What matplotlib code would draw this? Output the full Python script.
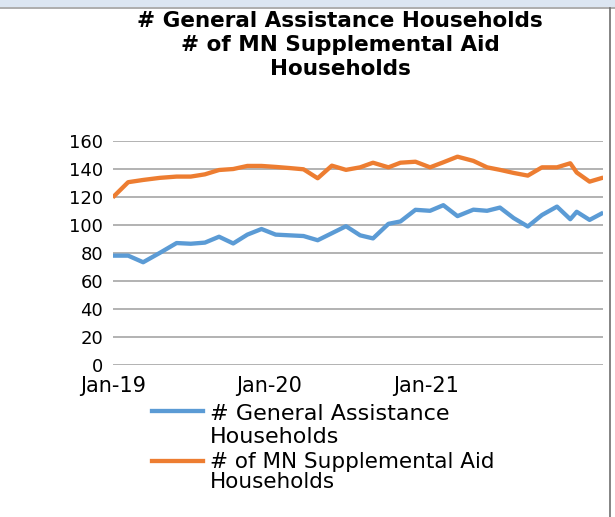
import matplotlib
matplotlib.use("Agg")
import matplotlib.pyplot as plt
from matplotlib.lines import Line2D
from matplotlib.patches import Rectangle
import pandas as pd

# Reporting dates and household counts
report_dates = [
    "2019-01-01", "2019-02-06", "2019-03-13", "2019-04-21", "2019-05-30",
    "2019-07-02", "2019-08-04", "2019-09-06", "2019-10-09", "2019-11-11",
    "2019-12-14", "2020-01-16", "2020-02-17", "2020-03-21", "2020-04-23",
    "2020-05-26", "2020-06-28", "2020-07-31", "2020-08-30", "2020-10-05",
    "2020-11-02", "2020-12-07", "2021-01-10", "2021-02-10", "2021-03-15",
    "2021-04-21", "2021-05-23", "2021-06-22", "2021-07-24", "2021-08-26",
    "2021-09-28", "2021-11-02", "2021-12-03", "2021-12-18", "2022-01-17",
    "2022-02-18",
]
general_assistance = [
    78, 78, 73.3, 80, 87, 86.5, 87.3, 91.5, 86.7, 93,
    97, 93, 92.5, 92, 89, 94, 99, 92.5, 90.3, 100.7,
    102.4, 110.7, 110, 114, 106.2, 110.8, 110, 112.3, 104.8, 98.8,
    107, 113, 104, 109.3, 103.5, 108.7,
]
mn_supplemental_aid = [
    119.5, 130.4, 132, 133.5, 134.4, 134.4, 136, 139.1, 139.8, 142,
    142, 141.3, 140.5, 139.6, 133.2, 142.2, 139.2, 141, 144.3, 141,
    144.3, 145, 141, 144.6, 148.6, 145.6, 141, 139.2, 137, 135.1,
    141, 141, 143.9, 137.3, 130.8, 133.7,
]
series_names = ["# General Assistance\nHouseholds",
                "# of MN Supplemental Aid\nHouseholds"]
title_text = "# General Assistance Households\n# of MN Supplemental Aid\nHouseholds"
tick_dates = ["2019-01-01", "2020-01-01", "2021-01-01"]
tick_labels = ["Jan-19", "Jan-20", "Jan-21"]
y_ticks = [0, 20, 40, 60, 80, 100, 120, 140, 160]

BLUE = "#5B9BD5"
ORANGE = "#ED7D31"
GRID = "#A6A6A6"

dates = pd.to_datetime(report_dates)

fig = plt.figure(figsize=(6.15, 5.17), dpi=100)
W, H = 615, 517


def fx(px):
    return px / W


def fy(py):
    return 1 - py / H


# outer frame of the chart area
fig.add_artist(Rectangle((0, fy(7)), 1, 7 / H, transform=fig.transFigure,
                         color="#DCE6F2", lw=0))
fig.add_artist(Line2D([0, 1], [fy(8), fy(8)], color="#A0A0A0", lw=1.2,
                      transform=fig.transFigure))
fig.add_artist(Line2D([fx(609.5), fx(609.5)], [0, fy(8)], color="#707070",
                      lw=1.2, transform=fig.transFigure))

ax = fig.add_axes([fx(112.7), fy(365), fx(603.3 - 112.7), (365 - 140.7) / H])

ax.plot(dates, general_assistance, color=BLUE, lw=3.1, solid_joinstyle="round",
        solid_capstyle="butt", zorder=3)
ax.plot(dates, mn_supplemental_aid, color=ORANGE, lw=3.1,
        solid_joinstyle="round", solid_capstyle="butt", zorder=3)

ax.set_xlim(dates[0], dates[-1])
ax.set_ylim(0, 160)
ax.set_yticks(y_ticks)
ax.set_xticks(pd.to_datetime(tick_dates))
ax.set_xticklabels(tick_labels)
ax.tick_params(axis="both", length=0, colors="black")
ax.tick_params(axis="x", pad=8, labelsize=15)
ax.tick_params(axis="y", pad=7, labelsize=13)
ax.yaxis.grid(True, color=GRID, lw=1.2)
ax.set_axisbelow(True)
for s in ax.spines.values():
    s.set_visible(False)

# baseline of the last title line
fig.text(fx(340), fy(75), title_text, ha="center", va="baseline",
         fontsize=15.5, fontweight="bold", linespacing=1.24,
         multialignment="center")

# legend keys and labels (text anchored at the baseline of its last line)
handle_specs = [(BLUE, 411, 443, 16, 1.17), (ORANGE, 461, 488, 15.5, 1.02)]
for (color, ky, by, fs, ls), name in zip(handle_specs, series_names):
    fig.add_artist(Line2D([fx(151.7), fx(203.3)], [fy(ky), fy(ky)], color=color,
                          lw=3.1, transform=fig.transFigure))
    fig.text(fx(210), fy(by), name, ha="left", va="baseline", fontsize=fs,
             linespacing=ls)

fig.savefig("out.png", dpi=100)
